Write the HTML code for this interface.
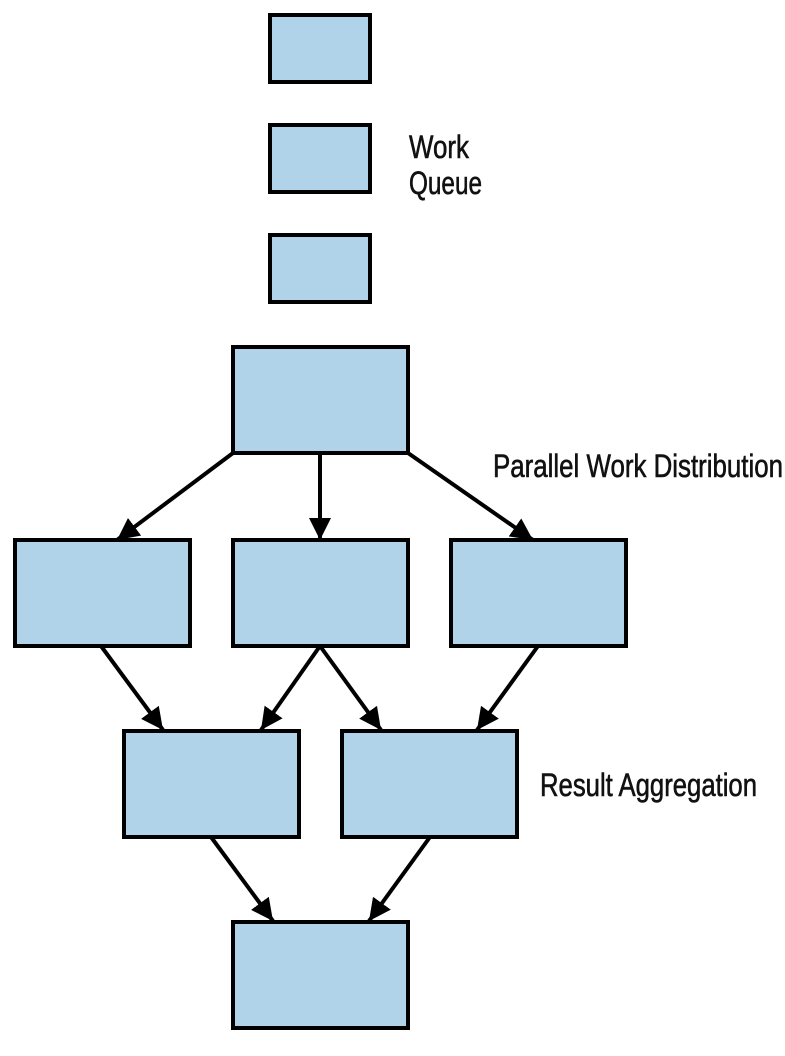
<!DOCTYPE html>
<html><head><style>
html,body{margin:0;padding:0;background:#fff;width:785px;height:1056px;overflow:hidden}
svg text{font-family:"Liberation Sans Narrow","Liberation Sans",sans-serif;font-size:32px;fill:#111;stroke:#111;stroke-width:0.6}
</style></head><body>
<svg width="785" height="1056" viewBox="0 0 785 1056" xmlns="http://www.w3.org/2000/svg">
<defs>
<marker id="b" viewBox="0 0 10 10" refX="10" refY="5" markerWidth="5.5" markerHeight="5.5" orient="auto"><path d="M0,0 L10,5 L0,10 z" fill="#000"/></marker>
</defs>
<g fill="#b1d3e9" stroke="#000" stroke-width="4">
<rect x="270" y="15" width="100" height="67"/>
<rect x="270" y="125" width="100" height="67"/>
<rect x="270" y="235" width="100" height="67"/>
<rect x="233" y="347" width="175" height="106"/>
<rect x="15" y="540" width="175" height="106"/>
<rect x="233" y="540" width="175" height="106"/>
<rect x="451" y="540" width="175" height="106"/>
<rect x="124" y="731" width="175" height="106"/>
<rect x="342" y="731" width="175" height="106"/>
<rect x="233" y="922" width="175" height="106"/>
</g>
<g stroke="#000" stroke-width="4" marker-end="url(#b)">
<line x1="233" y1="453" x2="117" y2="540"/>
<line x1="320" y1="453" x2="320" y2="540"/>
<line x1="408" y1="453" x2="533" y2="540"/>
<line x1="101" y1="646" x2="163" y2="730"/>
<line x1="320" y1="646" x2="261" y2="730"/>
<line x1="320" y1="646" x2="381" y2="730"/>
<line x1="538" y1="646" x2="477" y2="730"/>
<line x1="211" y1="837" x2="273" y2="921"/>
<line x1="430" y1="837" x2="369" y2="921"/>
</g>
<text x="409" y="158" textLength="60" lengthAdjust="spacingAndGlyphs">Work</text>
<text x="409" y="194" textLength="73" lengthAdjust="spacingAndGlyphs">Queue</text>
<text x="493" y="477" textLength="290" lengthAdjust="spacingAndGlyphs">Parallel Work Distribution</text>
<text x="540" y="796" textLength="217" lengthAdjust="spacingAndGlyphs">Result Aggregation</text>
</svg>
</body></html>
